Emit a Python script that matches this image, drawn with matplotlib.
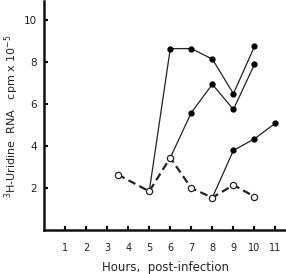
import matplotlib
matplotlib.use("Agg")
from matplotlib import pyplot as plt

# open circles, dashed (control)
ctrl_h = [3.5, 5, 6, 7, 8, 9, 10]
ctrl_v = [2.65, 1.85, 3.45, 2.0, 1.55, 2.15, 1.6]

# filled series
s1_h = [5, 6, 7, 8, 9, 10]
s1_v = [1.85, 8.65, 8.65, 8.15, 6.5, 8.75]
s2_h = [6, 7, 8, 9, 10]
s2_v = [3.45, 5.6, 6.95, 5.75, 7.9]
s3_h = [8, 9, 10, 11]
s3_v = [1.55, 3.8, 4.35, 5.1]

xticks = list(range(1, 12))
yticks = [2, 4, 6, 8, 10]

fig = plt.figure(figsize=(2.86, 2.74), dpi=100)
ax = fig.add_axes([0.154, 0.16, 0.846, 0.835])

ax.plot(s1_h, s1_v, "-", color="#222222", lw=0.9)
ax.plot(s2_h, s2_v, "-", color="#222222", lw=0.9)
ax.plot(s3_h, s3_v, "-", color="#222222", lw=0.9)
ax.plot(s1_h[1:], s1_v[1:], "o", color="black", ms=3.5)
ax.plot(s2_h[1:], s2_v[1:], "o", color="black", ms=3.5)
ax.plot(s3_h[1:], s3_v[1:], "o", color="black", ms=3.5)
ax.plot(ctrl_h, ctrl_v, "--", color="#222222", lw=1.6, dashes=(3.5, 2),
        marker="o", ms=4.5, mfc="white", mec="#222222", mew=0.9)

ax.set_xlim(0, 11.5)
ax.set_ylim(0, 10.9)
ax.set_xticks(xticks)
ax.set_xticklabels([str(h) for h in xticks], fontsize=7, color="#222222")
ax.set_yticks(yticks)
ax.set_yticklabels([str(v) for v in yticks], fontsize=7.5, color="#222222")
ax.tick_params(axis="x", direction="in", length=3, width=1.5, pad=9)
ax.tick_params(axis="y", direction="in", length=3, width=1.5, pad=5)

for s in ["top", "right"]:
    ax.spines[s].set_visible(False)
for s in ["left", "bottom"]:
    ax.spines[s].set_linewidth(1.8)
    ax.spines[s].set_color("#111111")

ax.set_xlabel("Hours,  post-infection", fontsize=8.5, color="#222222", labelpad=6)
ax.set_ylabel(r"$^{3}$H-Uridine  RNA   cpm x 10$^{-5}$", fontsize=8,
              color="#222222", labelpad=2)

plt.savefig("out.png", dpi=100)
